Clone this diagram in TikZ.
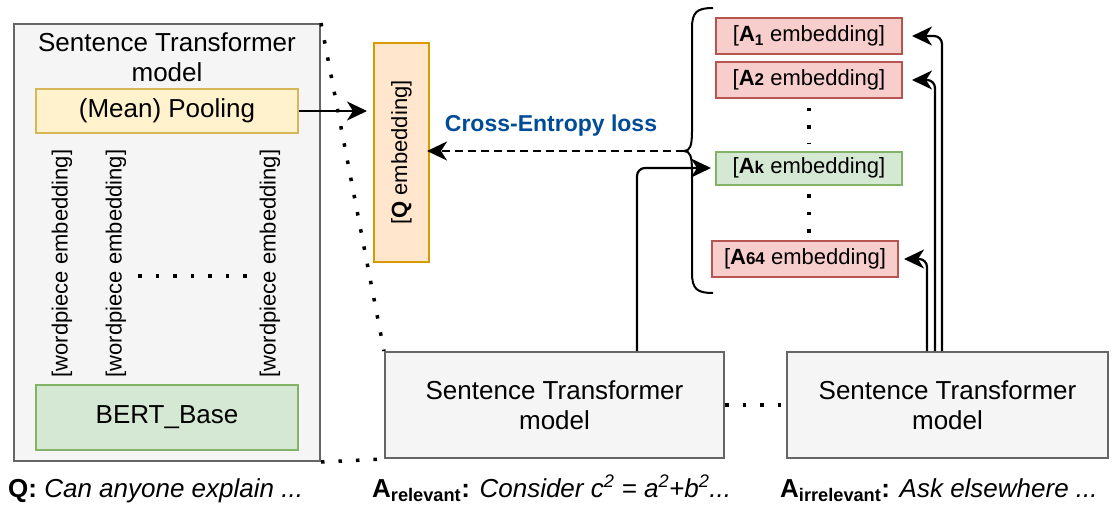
\documentclass[tikz,border=0pt]{standalone}
\usepackage{fontspec}
\setmainfont{Liberation Sans}
\usetikzlibrary{shapes,arrows.meta,positioning,calc}

\definecolor{modeledge}{HTML}{666666}
\definecolor{modelfill}{HTML}{F5F5F5}
\definecolor{pooledge}{HTML}{D6B656}
\definecolor{poolfill}{HTML}{FFF2CC}
\definecolor{bertedge}{HTML}{82B366}
\definecolor{bertfill}{HTML}{D5E8D4}
\definecolor{qedge}{HTML}{D79B00}
\definecolor{qfill}{HTML}{FFE6CC}
\definecolor{negedge}{HTML}{B85450}
\definecolor{negfill}{HTML}{F8CECC}
\definecolor{lossblue}{HTML}{004C99}

\newcommand{\bigtxt}{\fontsize{26pt}{30pt}\selectfont}
\newcommand{\smalltxt}{\fontsize{22pt}{26pt}\selectfont}
\newcommand{\losstxt}{\fontsize{23pt}{27pt}\selectfont}
\newcommand{\tinytxt}{\fontsize{17pt}{19pt}\selectfont}

\begin{document}
\begin{tikzpicture}[x=1pt, y=-1pt, node distance=44pt,
  model/.style={draw=modeledge, fill=modelfill, line width=2pt, rectangle, align=center, font=\bigtxt},
  pool/.style={draw=pooledge, fill=poolfill, line width=2pt, rectangle, minimum width=262pt, minimum height=44pt, font=\bigtxt},
  bert/.style={draw=bertedge, fill=bertfill, line width=2pt, rectangle, minimum width=262pt, minimum height=65pt, font=\bigtxt},
  qbox/.style={draw=qedge, fill=qfill, line width=2pt, rectangle, minimum width=55pt, minimum height=219pt},
  negbox/.style={draw=negedge, fill=negfill, line width=2pt, rectangle, minimum width=186pt, minimum height=36pt, font=\smalltxt},
  posbox/.style={negbox, draw=bertedge, fill=bertfill, minimum height=33pt},
  wp/.style={rotate=90, font=\smalltxt, inner sep=0pt},
  dots/.style={line width=3.5pt, dash pattern=on 3.5pt off 14pt},
  arrowtip/.style={-{Stealth[length=20pt, width=19pt, inset=6pt]}},
  arr/.style={line width=2.2pt, arrowtip, shorten >=6pt},
]
\useasboundingbox (0,0) rectangle (1116,504);

% 节点
\node[model, minimum width=306pt, minimum height=437pt] (stbox) at (167,242.5) {};
\node[font=\bigtxt, align=center] (sttitle) at (167,57) {Sentence Transformer\\model};
\node[pool] (pool) at (167,111) {(Mean) Pooling};
\node[wp] (wp1) at (62,263.5) {[wordpiece embedding]};
\node[wp] (wp2) at (116,263.5) {[wordpiece embedding]};
\node[wp] (wp3) at (270,263.5) {[wordpiece embedding]};
\node[bert] (bert) at (167,417.5) {BERT\_Base};
\node[anchor=base west, font=\bigtxt, inner sep=0pt] (qtxt) at (8,497) {\textbf{Q:} \textit{Can anyone explain ...}};

\node[qbox] (qemb) at (401.5,152.5) {};
\node[rotate=90, font=\smalltxt] (qlabel) at (qemb) {[\textbf{Q} embedding]};
\node[font=\bfseries\losstxt, text=lossblue] (losstxt) at (551,126) {Cross-Entropy loss};

\node[negbox] (a1) at (809,36) {[\textbf{A\textsubscript{1}} embedding]};
\node[negbox, below of=a1] (a2) {[\textbf{A{\tinytxt 2}} embedding]};
\node[posbox, node distance=88pt, below of=a2] (ak) {[\textbf{A{\tinytxt k}} embedding]};
\node[negbox, node distance=91pt, below of=ak, xshift=-4pt] (a64) {[\textbf{A{\tinytxt 64}} embedding]};

\node[model, minimum width=339pt, minimum height=106pt] (rel) at (554.5,405) {Sentence Transformer\\model};
\node[model, minimum width=321pt, minimum height=106pt] (irrel) at (947.5,405) {Sentence Transformer\\model};
\node[anchor=base west, font=\bigtxt, inner sep=0pt] (reltxt) at (372,497) {\textbf{A\textsubscript{relevant}:} \textit{Consider c\textsuperscript{2} = a\textsuperscript{2}+b\textsuperscript{2}...}};
\node[anchor=base west, font=\bigtxt, inner sep=0pt] (irreltxt) at (780,497) {\textbf{A\textsubscript{irrelevant}:} \textit{Ask elsewhere ...}};

% 花括号
\coordinate (brtip) at (684,151);
\draw[line width=2pt] (713,8) .. controls (697,8) and (692,12) .. (692,28) -- (692,131)
  .. controls (692,146) and (690,151) .. (brtip) .. controls (690,151) and (692,156) .. (692,171)
  -- (692,273) .. controls (692,289) and (697,293) .. (713,293);

% 点线
\draw[dots] (stbox.north east) -- (rel.north west);
\draw[dots] (stbox.south east) -- (rel.south west);
\draw[dots] (rel.east) -- (irrel.west);
\draw[dots] ($(wp2)+(22,12.5)$) -- ($(wp3)+(-20,12.5)$);
\draw[dots, shorten <=8.5pt, shorten >=7pt] (a2.south) -- (ak.north);
\draw[dots, shorten <=8.5pt, shorten >=7pt] (ak.south) -- (a64.north -| ak.south);

% 数据流
\draw[arr] (pool.east) -- (pool.east -| qemb.west);
\draw[line width=2.2pt, dash pattern=on 8pt off 5pt, arrowtip, shorten >=-3pt] (brtip) -- (brtip -| qemb.east);
\draw[arr, rounded corners=8pt, shorten >=4pt] ([xshift=82.5pt]rel.north) |- (ak.west);
\draw[arr, rounded corners=8pt, shorten >=9pt] ([xshift=-5.5pt]irrel.north) |- (a1.east);
\draw[arr, rounded corners=8pt, shorten >=9pt] ([xshift=-12.5pt]irrel.north) |- (a2.east);
\draw[arr, rounded corners=8pt, shorten >=5pt] ([xshift=-20.5pt]irrel.north) |- (a64.east);
\end{tikzpicture}
\end{document}
